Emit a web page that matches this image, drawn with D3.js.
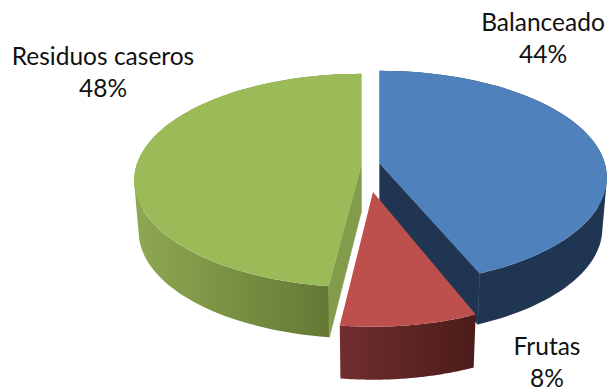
<!DOCTYPE html>
<html><head><meta charset="utf-8">
<script src="https://cdn.jsdelivr.net/npm/d3@7"></script>
<style>html,body{margin:0;background:#fff}svg{display:block}text{font-family:Lato,"Open Sans",sans-serif;font-size:24.5px;fill:#111}</style>
</head><body><svg width="611" height="392"></svg>
<script>
const categories = ["Balanceado","Frutas","Residuos caseros"];
const values = [43.6,8.4,48];
const topColors = ["#4f81bd","#bd4f4c","#9bbb59"];
const innerColors = ["#1f3551",null,"#829c4c"];
const wallStops = [["#1f3551","#1f3551"],["#702e2d","#4c1c1a"],["#8fa852","#5d7030"]];
const apexX = [380,373,361], apexY = [164,192,167], scaleX = [1,1.03,1], scaleY = [1,1.12,1], depths = [46,47,46];
const rimDepth = [51,53,51];
const labelX = [543,547,103], labelY = [31,355,65];

const R=225, B=105, K=0.127, BOTTOM=0.98;
const svg=d3.select("svg"), defs=svg.append("defs");
const arcs=d3.pie().sort(null)(values);
const line=d3.line();
function pt(i,t,bottom){
  const w=1+K*Math.cos(t), sx=bottom?BOTTOM:1;
  return [apexX[i]+scaleX[i]*sx*R*Math.sin(t)/w,
          apexY[i]+scaleY[i]*B*(-Math.cos(t))/w+(bottom?rimDepth[i]:0)];
}
const sample=(a,n=80)=>d3.range(n+1).map(k=>a.startAngle+(a.endAngle-a.startAngle)*k/n);
[2,0,1].forEach(i=>{
  const a=arcs[i], ts=sample(a);
  const apex=[apexX[i],apexY[i]], apexB=[apexX[i],apexY[i]+depths[i]];
  const g=svg.append("g");
  const xs=ts.map(t=>pt(i,t)[0]);
  const grad=defs.append("linearGradient").attr("id","w"+i).attr("gradientUnits","userSpaceOnUse")
    .attr("x1",d3.min(xs)).attr("x2",d3.max(xs)).attr("y1",0).attr("y2",0);
  grad.append("stop").attr("offset",0).attr("stop-color",wallStops[i][0]);
  grad.append("stop").attr("offset",1).attr("stop-color",wallStops[i][1]);
  const quads=d3.pairs(ts).map(([t0,t1])=>{
    const q=[pt(i,t0),pt(i,t1),pt(i,t1,true),pt(i,t0,true)];
    if(d3.polygonArea(q)<0) q.reverse();
    return line(q)+"Z";
  });
  g.append("path").attr("d",quads.join("")).attr("fill","url(#w"+i+")");
  if(innerColors[i]) [a.startAngle,a.endAngle].forEach(t=>{
    g.append("path").attr("d",line([apex,pt(i,t),pt(i,t,true),apexB])+"Z").attr("fill",innerColors[i])
      .attr("stroke",innerColors[i]).attr("stroke-width",0.6);
  });
  g.append("path").attr("d",line([apex].concat(ts.map(t=>pt(i,t))))+"Z").attr("fill",topColors[i]);
});
categories.forEach((c,i)=>{
  const t=svg.append("text").attr("text-anchor","middle").attr("x",labelX[i]).attr("y",labelY[i]);
  t.append("tspan").attr("x",labelX[i]).text(c);
  t.append("tspan").attr("x",labelX[i]).attr("dy",32).text(Math.round(values[i])+"%");
});
</script></body></html>
